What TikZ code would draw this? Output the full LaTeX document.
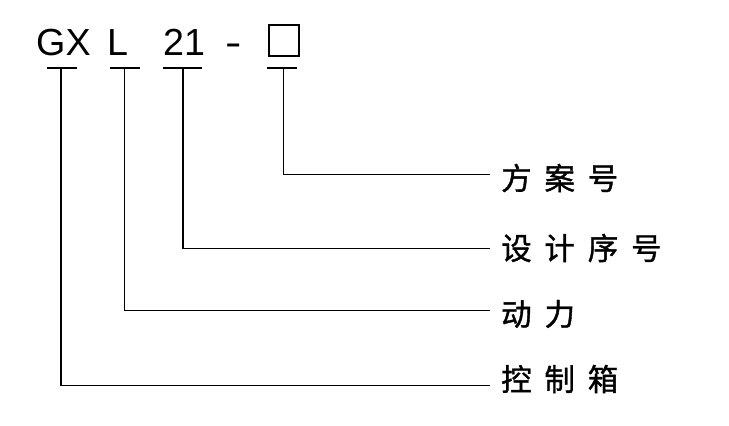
\documentclass[tikz,border=0pt]{standalone}
\usepackage{fontspec}
\setmainfont{Liberation Sans}
\newfontfamily\cjk[LetterSpace=42,FakeBold=1.2]{Noto Sans CJK SC}
\begin{document}
\begin{tikzpicture}[x=1pt,y=-1pt,
  lbl/.style={font=\cjk\fontsize{30.5}{30.5}\selectfont, anchor=west, inner sep=0},
  code/.style={font=\fontsize{37.7}{38}\selectfont, anchor=base west, inner sep=0},
  conn/.style={line width=1.7pt}]
\useasboundingbox (0,0) rectangle (729,426);
% code letters
\node[code] (gx) at (36,55) {GX};
\node[code] (l) at (107,55) {L};
\node[code] (n21) at (163,55) {21};
\node[code] (dash) at (224.8,55) {\scalebox{1.3}[1]{-}};
\node[draw, line width=1.8pt, minimum width=30pt, minimum height=30.7pt, inner sep=0] (box) at (284,40.4) {};
% labels
\node[lbl] (lab1) at (501,178) {方案号};
\node[lbl] (lab2) at (501,248) {设计序号};
\node[lbl] (lab3) at (501,314) {动力};
\node[lbl] (lab4) at (501,379) {控制箱};
% tick bars
\coordinate (gxa) at (47,68);  \coordinate (gxb) at (77,68);  \coordinate (gxt) at (61,68);
\coordinate (la) at (110,68);  \coordinate (lb) at (140,68);  \coordinate (lt) at (124.5,68);
\coordinate (na) at (163,68);  \coordinate (nb) at (202,68);  \coordinate (nt) at (183,68);
\coordinate (ba) at (267,68);  \coordinate (bb) at (297,68);  \coordinate (bt) at (283.5,68);
\coordinate (e1) at (490,174.5);
\coordinate (e2) at (490,248.5);
\coordinate (e3) at (490,310.5);
\coordinate (e4) at (490,385.5);
\draw[conn] (gxa) -- (gxb);
\draw[conn] (la) -- (lb);
\draw[conn] (na) -- (nb);
\draw[conn] (ba) -- (bb);
\draw[conn] (bt) |- (e1);
\draw[conn] (nt) |- (e2);
\draw[conn] (lt) |- (e3);
\draw[conn] (gxt) |- (e4);
\end{tikzpicture}
\end{document}
